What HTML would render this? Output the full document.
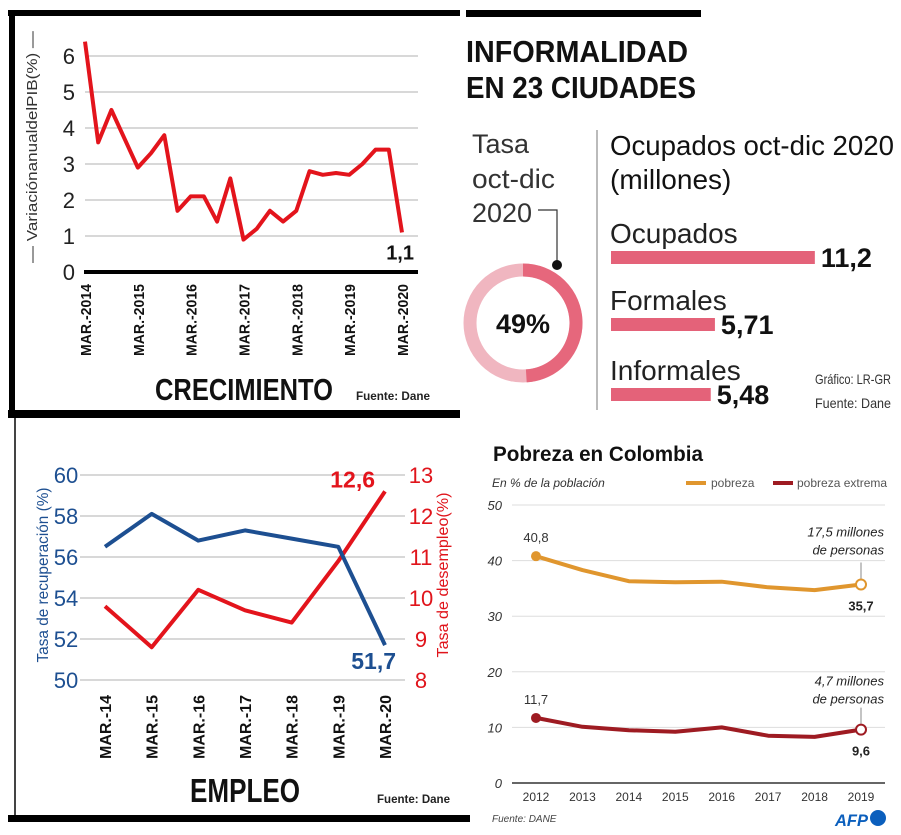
<!DOCTYPE html>
<html><head><meta charset="utf-8"><style>
body{margin:0;background:#fff;width:901px;height:835px;overflow:hidden}
svg{display:block;font-family:"Liberation Sans",sans-serif}
</style></head><body>
<svg id="s" width="901" height="835" viewBox="0 0 901 835" xmlns="http://www.w3.org/2000/svg">
<g>
<rect x="8" y="10" width="452" height="6" fill="#000"/>
<rect x="9" y="10" width="6" height="405" fill="#000"/>
<rect x="8" y="410" width="452" height="6" fill="#000"/>
<g id="g1"></g>
<text x="37" y="147" transform="rotate(-90 37 147)" text-anchor="middle" font-size="15" fill="#333" textLength="232" lengthAdjust="spacingAndGlyphs">—  VariaciónanualdelPIB(%)  —</text>
<text x="155" y="400" font-size="31" font-weight="bold" fill="#111" textLength="178" lengthAdjust="spacingAndGlyphs">CRECIMIENTO</text>
<text x="356" y="400" font-size="12" font-weight="bold" fill="#222" textLength="74" lengthAdjust="spacingAndGlyphs">Fuente: Dane</text>
</g>
<g>
<rect x="8" y="412" width="452" height="6" fill="#000"/>
<rect x="14" y="418" width="2" height="398" fill="#444"/>
<rect x="8" y="815" width="462" height="7" fill="#000"/>
<g id="g2"></g>
<text x="48" y="575" transform="rotate(-90 48 575)" text-anchor="middle" font-size="16" fill="#1d4f91" textLength="175" lengthAdjust="spacingAndGlyphs">Tasa de recuperación (%)</text>
<text x="448" y="575" transform="rotate(-90 448 575)" text-anchor="middle" font-size="16" fill="#e0141b" textLength="165" lengthAdjust="spacingAndGlyphs">Tasa de desempleo(%)</text>
<text x="190" y="802" font-size="33" font-weight="bold" fill="#111" textLength="110" lengthAdjust="spacingAndGlyphs">EMPLEO</text>
<text x="377" y="803" font-size="12" font-weight="bold" fill="#222" textLength="73" lengthAdjust="spacingAndGlyphs">Fuente: Dane</text>
</g>
<g>
<rect x="466" y="10" width="235" height="7" fill="#000"/>
<text x="466" y="62" font-size="31" font-weight="bold" fill="#111" textLength="222" lengthAdjust="spacingAndGlyphs">INFORMALIDAD</text>
<text x="466" y="98" font-size="31" font-weight="bold" fill="#111" textLength="230" lengthAdjust="spacingAndGlyphs">EN 23 CIUDADES</text>
<rect x="596" y="130" width="2" height="280" fill="#bbb"/>
<text x="472" y="153" font-size="27" fill="#333">Tasa</text>
<text x="472" y="188" font-size="27" fill="#333" textLength="83" lengthAdjust="spacingAndGlyphs">oct-dic</text>
<text x="472" y="222" font-size="27" fill="#333">2020</text>
<polyline points="538,210 557,210 557,265" fill="none" stroke="#333" stroke-width="1.2"/>
<g id="donut"></g>
<text x="610" y="155" font-size="28" fill="#111" textLength="284" lengthAdjust="spacingAndGlyphs">Ocupados oct-dic 2020</text>
<text x="610" y="189" font-size="28" fill="#111">(millones)</text>
<g id="bars"></g>
<text x="815" y="384" font-size="14" fill="#333" textLength="76" lengthAdjust="spacingAndGlyphs">Gráfico: LR-GR</text>
<text x="815" y="408" font-size="14" fill="#333" textLength="76" lengthAdjust="spacingAndGlyphs">Fuente: Dane</text>
</g>
<g>
<text x="493" y="461" font-size="21" font-weight="bold" fill="#111" textLength="210" lengthAdjust="spacingAndGlyphs">Pobreza en Colombia</text>
<text x="492" y="487" font-size="12" font-style="italic" fill="#333">En % de la población</text>
<line x1="686" y1="483" x2="706" y2="483" stroke="#e0962e" stroke-width="4"/>
<text x="711" y="487" font-size="12" fill="#555">pobreza</text>
<line x1="773" y1="483" x2="793" y2="483" stroke="#9e1b22" stroke-width="4"/>
<text x="797" y="487" font-size="12" fill="#555">pobreza extrema</text>
<g id="g4"></g>
<text x="492" y="822" font-size="10" font-style="italic" fill="#444">Fuente: DANE</text>
<text x="835" y="826" font-size="17" font-weight="bold" font-style="italic" fill="#0b5fbd" textLength="33" lengthAdjust="spacingAndGlyphs">AFP</text>
<circle cx="878" cy="818" r="8" fill="#0b5fbd"/>
</g>
</svg>
<script>
const gdpLabels = ["MAR.-2014","MAR.-2015","MAR.-2016","MAR.-2017","MAR.-2018","MAR.-2019","MAR.-2020"];
const gdpTicks = [0,1,2,3,4,5,6];
const gdpValues = [6.4,3.6,4.5,3.7,2.9,3.3,3.8,1.7,2.1,2.1,1.4,2.6,0.9,1.2,1.7,1.4,1.7,2.8,2.7,2.75,2.7,3.0,3.4,3.4,1.1];
const empLabels = ["MAR.-14","MAR.-15","MAR.-16","MAR.-17","MAR.-18","MAR.-19","MAR.-20"];
const empLeftTicks = [50,52,54,56,58,60];
const empRightTicks = [8,9,10,11,12,13];
const recupValues = [56.5,58.1,56.8,57.3,56.9,56.5,51.7];
const desempValues = [9.8,8.8,10.2,9.7,9.4,10.9,12.6];
const informalRate = 49;
const barLabels = ["Ocupados","Formales","Informales"];
const barValues = [11.2,5.71,5.48];
const barValueText = ["11,2","5,71","5,48"];
const povYears = ["2012","2013","2014","2015","2016","2017","2018","2019"];
const povTicks = [0,10,20,30,40,50];
const povValues = [40.8,38.3,36.3,36.1,36.2,35.2,34.7,35.7];
const extremeValues = [11.7,10.1,9.5,9.2,10.0,8.5,8.3,9.6];

const NS="http://www.w3.org/2000/svg";
function mk(parent,tag,attrs,text){const e=document.createElementNS(NS,tag);for(const k in attrs)e.setAttribute(k,attrs[k]);if(text!==undefined)e.textContent=text;parent.appendChild(e);return e;}
function pts(vals,xf,yf){return vals.map((v,i)=>xf(i).toFixed(1)+","+yf(v).toFixed(1)).join(" ");}

(function(){
const g=document.getElementById('g1');
const x=i=>85+i*(402-85)/(gdpValues.length-1);
const y=v=>272-v*36;
gdpTicks.forEach(t=>{
 if(t>0){const l=mk(g,'line',{x1:85,x2:418,y1:y(t),y2:y(t),stroke:'#ccc','stroke-width':1.5});
 
 }
 const tx=mk(g,'text',{x:75,y:y(t)+8,'text-anchor':'end','font-size':22,fill:'#222'},String(t));
 
 
});
const ax=mk(g,'line',{x1:84,x2:418,y1:272,y2:272,stroke:'#000','stroke-width':4});


gdpLabels.forEach((s,k)=>{
 const xx=x(k*4);
 const t=mk(g,'text',{x:0,y:0,'text-anchor':'end','font-size':15,'font-weight':'bold',fill:'#111',textLength:72,lengthAdjust:'spacingAndGlyphs',transform:`translate(${xx+6},${284}) rotate(-90)`},s);
 
 
});
const ln=mk(g,'polyline',{points:pts(gdpValues,x,y),fill:'none',stroke:'#e3141c','stroke-width':4,'stroke-linejoin':'round'});


const n=gdpValues.length-1;
const lb=mk(g,'text',{x:x(n)+12,y:y(gdpValues[n])+27,'text-anchor':'end','font-size':20,'font-weight':'bold',fill:'#111'},String(gdpValues[n]).replace('.',','));


})();

(function(){
const g=document.getElementById('g2');
const x=i=>105+i*(385-105)/(recupValues.length-1);
const yl=v=>680-(v-50)*20.5;
const yr=v=>680-(v-8)*41;
empLeftTicks.forEach((t,k)=>{
 const l=mk(g,'line',{x1:80,x2:405,y1:yl(t),y2:yl(t),stroke:'#ccc','stroke-width':1.5});
 
 
 const a=mk(g,'text',{x:66,y:yl(t)+8,'text-anchor':'middle','font-size':22,fill:'#1d4f91'},String(t));
 
 
 const r=empRightTicks[k];
 const b=mk(g,'text',{x:421,y:yr(r)+8,'text-anchor':'middle','font-size':22,fill:'#e0141b'},String(r));
 
 
});
empLabels.forEach((s,i)=>{
 const t=mk(g,'text',{x:0,y:0,'text-anchor':'end','font-size':16,'font-weight':'bold',fill:'#111',textLength:64,lengthAdjust:'spacingAndGlyphs',transform:`translate(${x(i)+6},${695}) rotate(-90)`},s);
 
 
});
const r=mk(g,'polyline',{points:pts(desempValues,x,yr),fill:'none',stroke:'#e3141c','stroke-width':4,'stroke-linejoin':'round'});


const b=mk(g,'polyline',{points:pts(recupValues,x,yl),fill:'none',stroke:'#1d4f91','stroke-width':4,'stroke-linejoin':'round'});


const n=recupValues.length-1;
const l1=mk(g,'text',{x:x(n)-10,y:yr(desempValues[n])-4,'text-anchor':'end','font-size':23,'font-weight':'bold',fill:'#e3141c'},String(desempValues[n]).replace('.',','));


const l2=mk(g,'text',{x:x(n)+11,y:yl(recupValues[n])+24,'text-anchor':'end','font-size':23,'font-weight':'bold',fill:'#1d4f91'},String(recupValues[n]).replace('.',','));


})();

(function(){
const g=document.getElementById('donut');
const cx=523,cy=323,R=53;
const bg=mk(g,'circle',{cx,cy,r:R,fill:'none',stroke:'#f0b6c0','stroke-width':13});


const a=informalRate/100*2*Math.PI;
const ex=cx+R*Math.sin(a),ey=cy-R*Math.cos(a);
const arc=mk(g,'path',{d:`M${cx},${cy-R} A${R},${R} 0 ${a>Math.PI?1:0} 1 ${ex.toFixed(1)},${ey.toFixed(1)}`,fill:'none',stroke:'#e6677c','stroke-width':13});


const dot=mk(g,'circle',{cx:557,cy:265,r:5,fill:'#111'});


const t=mk(g,'text',{x:cx,y:cy+10,'text-anchor':'middle','font-size':27,'font-weight':'bold',fill:'#111'},informalRate+'%');


const b=document.getElementById('bars');
const ys=[251,318,388];
barValues.forEach((v,i)=>{
 const w=v*18.2;
 const lab=mk(b,'text',{x:610,y:ys[i]-8,'font-size':28,fill:'#222'},barLabels[i]);
 
 
 const r=mk(b,'rect',{x:611,y:ys[i],width:w,height:13,fill:'#e46279'});
 
 
 const vt=mk(b,'text',{x:611+w+6,y:ys[i]+16,'font-size':27,'font-weight':'bold',fill:'#111'},barValueText[i]);
 
 
});
})();

(function(){
const g=document.getElementById('g4');
const x=i=>536+i*(861-536)/(povYears.length-1);
const y=v=>783-v*5.56;
povTicks.forEach(t=>{
 const l=mk(g,'line',{x1:512,x2:885,y1:y(t),y2:y(t),stroke:t===0?'#333':'#ddd','stroke-width':t===0?1.5:1});
 
 
 const tx=mk(g,'text',{x:502,y:y(t)+5,'text-anchor':'end','font-size':13,'font-style':'italic',fill:'#333'},String(t));
 
 
});
povYears.forEach((s,i)=>{
 const t=mk(g,'text',{x:x(i),y:801,'text-anchor':'middle','font-size':12,fill:'#333'},s);
 
 
});
function series(vals,color,name){
 const l=mk(g,'polyline',{points:pts(vals,x,y),fill:'none',stroke:color,'stroke-width':4,'stroke-linejoin':'round'});
 
 
 const c0=mk(g,'circle',{cx:x(0),cy:y(vals[0]),r:5,fill:color});
 
 
 const n=vals.length-1;
 const c1=mk(g,'circle',{cx:x(n),cy:y(vals[n]),r:5,fill:'#fff',stroke:color,'stroke-width':2});
 
 
 const t0=mk(g,'text',{x:x(0),y:y(vals[0])-14,'text-anchor':'middle','font-size':13,fill:'#333'},String(vals[0]).replace('.',','));
 
 
 const t1=mk(g,'text',{x:x(n),y:y(vals[n])+26,'text-anchor':'middle','font-size':13,'font-weight':'bold',fill:'#222'},String(vals[n]).replace('.',','));
 
 
 const ld=mk(g,'line',{x1:x(n),x2:x(n),y1:y(vals[n])-6,y2:y(vals[n])-22,stroke:'#888','stroke-width':1});
 
 
}
series(povValues,'#e0962e','pobreza');
series(extremeValues,'#9e1b22','pobreza-extrema');
const notes=[["17,5 millones",y(povValues[7])-48],["de personas",y(povValues[7])-30],["4,7 millones",y(extremeValues[7])-44],["de personas",y(extremeValues[7])-26]];
notes.forEach(n=>{
 const t=mk(g,'text',{x:884,y:n[1],'text-anchor':'end','font-size':13,'font-style':'italic',fill:'#222'},n[0]);
 
 
});
})();
</script>
</body></html>
